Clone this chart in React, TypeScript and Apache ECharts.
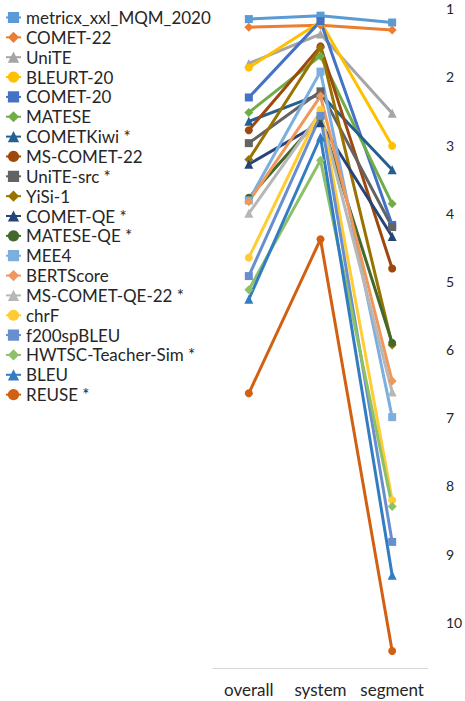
import React, { useEffect, useRef } from "react";
import * as echarts from "echarts";

const categories = ["overall", "system", "segment"];

const seriesNames = [
  "metricx_xxl_MQM_2020",
  "COMET-22",
  "UniTE",
  "BLEURT-20",
  "COMET-20",
  "MATESE",
  "COMETKiwi *",
  "MS-COMET-22",
  "UniTE-src *",
  "YiSi-1",
  "COMET-QE *",
  "MATESE-QE *",
  "MEE4",
  "BERTScore",
  "MS-COMET-QE-22 *",
  "chrF",
  "f200spBLEU",
  "HWTSC-Teacher-Sim *",
  "BLEU",
  "REUSE *",
];

const metricxValues = [1.18, 1.13, 1.23];
const comet22Values = [1.3, 1.27, 1.34];
const uniteValues = [1.83, 1.4, 2.56];
const bleurtValues = [1.89, 1.22, 3.04];
const comet20Values = [2.33, 1.21, 4.2];
const mateseValues = [2.55, 1.72, 3.89];
const cometKiwiValues = [2.68, 2.28, 3.39];
const msComet22Values = [2.81, 1.58, 4.84];
const uniteSrcValues = [3.0, 2.24, 4.23];
const yisiValues = [3.24, 1.6, 5.96];
const cometQeValues = [3.31, 2.7, 4.37];
const mateseQeValues = [3.8, 2.62, 5.93];
const mee4Values = [3.84, 1.95, 7.02];
const bertScoreValues = [3.86, 2.31, 6.49];
const msCometQe22Values = [4.03, 2.55, 6.65];
const chrfValues = [4.68, 2.51, 8.24];
const f200spBleuValues = [4.95, 2.6, 8.85];
const hwtscValues = [5.15, 3.25, 8.33];
const bleuValues = [5.29, 2.91, 9.34];
const reuseValues = [6.67, 4.41, 10.45];

const seriesValues = [
  metricxValues,
  comet22Values,
  uniteValues,
  bleurtValues,
  comet20Values,
  mateseValues,
  cometKiwiValues,
  msComet22Values,
  uniteSrcValues,
  yisiValues,
  cometQeValues,
  mateseQeValues,
  mee4Values,
  bertScoreValues,
  msCometQe22Values,
  chrfValues,
  f200spBleuValues,
  hwtscValues,
  bleuValues,
  reuseValues,
];

const rankTicks = [1, 2, 3, 4, 5, 6, 7, 8, 9, 10];

const colors = [
  "#5B9BD5", "#ED7D31", "#A5A5A5", "#FFC000", "#4472C4", "#70AD47",
  "#255E91", "#9E480E", "#636363", "#997300", "#264478", "#43682B",
  "#7CAFDD", "#F1975A", "#B7B7B7", "#FFCD33", "#698ED0", "#8CC168",
  "#327DC2", "#D26012",
];

const symbols = ["rect", "diamond", "triangle", "circle"];
const symbolSizes: Record<string, number> = { rect: 8, diamond: 9, triangle: 9, circle: 8 };

const FONT = "Lato, 'Noto Sans', sans-serif";

export default function App() {
  const ref = useRef<HTMLDivElement>(null);
  useEffect(() => {
    if (!ref.current) return;
    const chart = echarts.init(ref.current, undefined, { renderer: "svg" });
    const series = seriesNames.map((name, i) => {
      const sym = symbols[i % 4];
      return {
        name,
        type: "line",
        data: seriesValues[i],
        symbol: sym,
        symbolSize: symbolSizes[sym],
        showAllSymbol: true,
        lineStyle: { width: 3, color: colors[i] },
        itemStyle: { color: colors[i] },
        emphasis: { disabled: true },
      };
    });
    chart.setOption({
      animation: false,
      color: colors,
      textStyle: { fontFamily: FONT },
      legend: {
        orient: "vertical",
        left: 5,
        top: 9,
        padding: 0,
        itemWidth: 15,
        itemHeight: 14,
        itemGap: 2.85,
        data: seriesNames,
        textStyle: { fontSize: 17, color: "#262626", fontFamily: FONT },
      },
      grid: {
        left: 213,
        right: 37,
        top: 0,
        height: 668,
        containLabel: false,
        outerBoundsMode: "none",
      },
      xAxis: {
        type: "category",
        data: categories,
        boundaryGap: true,
        axisLine: { show: true, lineStyle: { color: "#D9D9D9", width: 1 } },
        axisTick: { show: false },
        axisLabel: { interval: 0, fontSize: 17, color: "#262626", margin: 13, fontFamily: FONT },
        splitLine: { show: false },
      },
      yAxis: {
        type: "value",
        position: "right",
        inverse: true,
        min: 0.9,
        max: 10.7,
        axisLine: { show: false },
        axisTick: { show: false },
        splitLine: { show: false },
        axisLabel: {
          customValues: rankTicks,
          fontSize: 14,
          verticalAlign: "top",
          lineHeight: 4,
          color: "#262626",
          margin: 18,
          fontFamily: FONT,
        },
      },
      series,
    });
    return () => chart.dispose();
  }, []);
  return (
    <div
      ref={ref}
      style={{ position: "fixed", left: 0, top: 0, width: 465, height: 701, background: "#fff" }}
    />
  );
}
